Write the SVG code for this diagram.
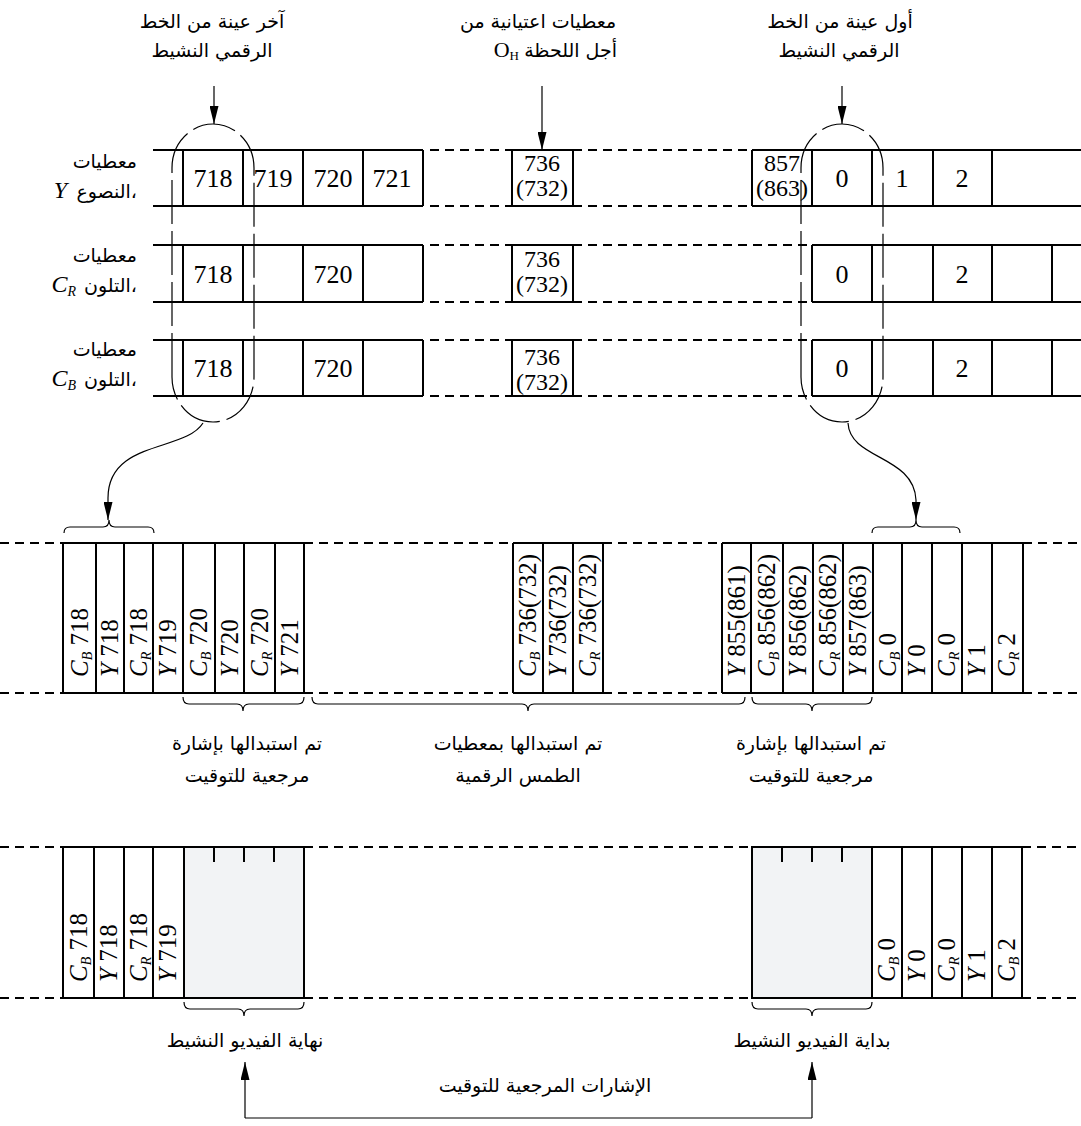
<svg xmlns="http://www.w3.org/2000/svg" width="1081" height="1126" viewBox="0 0 1081 1126">
<defs>
<style>
.ln{stroke:#000;stroke-width:2;fill:none}
.dl{stroke:#000;stroke-width:2;stroke-dasharray:9 6;fill:none}
.ov{stroke:#000;stroke-width:1.2;stroke-dasharray:44 7;fill:none}
.th{stroke:#000;stroke-width:1.2;fill:none}
.gr{fill:#f2f3f5;stroke:#000;stroke-width:2}
.ar{font-family:"DejaVu Sans","Noto Sans",sans-serif;font-size:19px;fill:#000}
.nm{font-family:"Liberation Serif","Times New Roman",serif;font-size:25px;fill:#000}
.cd{font-size:26px}
.bx{font-size:24px}
.it{font-style:italic}
.sb{font-size:14px;font-style:italic}
.mid{text-anchor:middle}
.end{text-anchor:end}
</style>
<marker id="ah" markerUnits="userSpaceOnUse" viewBox="0 0 18 9" refX="18" refY="4.5" markerWidth="18" markerHeight="9" orient="auto">
<path d="M0,0 L18,4.5 L0,9 z" fill="#000"/>
</marker>
</defs>
<rect width="1081" height="1126" fill="#fff"/>

<!-- top labels -->
<g id="label-last-sample">
<text class="ar mid" x="212" y="28">آخر عينة من الخط</text>
<text class="ar mid" x="212" y="57">الرقمي النشيط</text>
</g>
<g id="label-sampled-OH">
<text class="ar mid" x="538" y="28">معطيات اعتيانية من</text>
<text class="ar end" x="617" y="57">أجل اللحظة</text>
<text class="nm end" x="519" y="57" style="font-size:22px">O<tspan style="font-size:13px" dy="3">H</tspan></text>
</g>
<g id="label-first-sample">
<text class="ar mid" x="840" y="28">أول عينة من الخط</text>
<text class="ar mid" x="839" y="57">الرقمي النشيط</text>
</g>

<!-- row labels -->
<g id="label-row-Y">
<text class="ar end" x="137" y="168">معطيات</text>
<text class="ar end" x="137" y="198">النصوع،</text>
<text class="nm it end" x="67" y="198" style="font-size:24px">Y</text>
</g>
<g id="label-row-CR">
<text class="ar end" x="137" y="262">معطيات</text>
<text class="ar end" x="137" y="292">التلون،</text>
<text class="nm it end" x="76" y="292" style="font-size:24px">C<tspan class="sb" dy="4">R</tspan></text>
</g>
<g id="label-row-CB">
<text class="ar end" x="137" y="356">معطيات</text>
<text class="ar end" x="137" y="386">التلون،</text>
<text class="nm it end" x="76" y="386" style="font-size:24px">C<tspan class="sb" dy="4">B</tspan></text>
</g>

<!-- row Y -->
<g id="row-Y">
<path class="ln" d="M153,150H423M153,206H423M183,150V206M243,150V206M303,150V206M363,150V206M423,150V206"/>
<path class="dl" d="M430,150H512M430,206H512M573,150H752M573,206H752"/>
<rect class="ln" x="512" y="150" width="61" height="56"/>
<path class="ln" d="M752,150H1081M752,206H1081M752,150V206M812,150V206M872,150V206M933,150V206M992,150V206"/>
<g class="nm cd">
<text class="mid" x="213" y="187">718</text>
<text class="mid" x="273" y="187">719</text>
<text class="mid" x="333" y="187">720</text>
<text class="mid" x="392" y="187">721</text>
<text class="mid" x="842" y="187">0</text>
<text class="mid" x="902" y="187">1</text>
<text class="mid" x="962" y="187">2</text>
</g>
<g class="nm bx">
<text class="mid" x="542" y="171">736</text>
<text class="mid" x="542" y="196">(732)</text>
<text class="mid" x="782" y="171">857</text>
<text class="mid" x="782" y="196">(863)</text>
</g>
</g>

<!-- row CR -->
<g id="row-CR">
<path class="ln" d="M153,245H423M153,302H423M183,245V302M243,245V302M303,245V302M363,245V302M423,245V302"/>
<path class="dl" d="M430,245H512M430,302H512M573,245H810M573,302H810"/>
<rect class="ln" x="512" y="245" width="61" height="57"/>
<path class="ln" d="M812,245H1081M812,302H1081M812,245V302M872,245V302M933,245V302M992,245V302M1052,245V302"/>
<g class="nm cd">
<text class="mid" x="213" y="283">718</text>
<text class="mid" x="333" y="283">720</text>
<text class="mid" x="842" y="283">0</text>
<text class="mid" x="962" y="283">2</text>
</g>
<g class="nm bx">
<text class="mid" x="542" y="267">736</text>
<text class="mid" x="542" y="292">(732)</text>
</g>
</g>

<!-- row CB -->
<g id="row-CB">
<path class="ln" d="M153,340H423M153,396H423M183,340V396M243,340V396M303,340V396M363,340V396M423,340V396"/>
<path class="dl" d="M430,340H512M430,396H512M573,340H810M573,396H810"/>
<rect class="ln" x="512" y="340" width="61" height="56"/>
<path class="ln" d="M812,340H1081M812,396H1081M812,340V396M872,340V396M933,340V396M992,340V396M1052,340V396"/>
<g class="nm cd">
<text class="mid" x="213" y="377">718</text>
<text class="mid" x="333" y="377">720</text>
<text class="mid" x="842" y="377">0</text>
<text class="mid" x="962" y="377">2</text>
</g>
<g class="nm bx">
<text class="mid" x="542" y="365">736</text>
<text class="mid" x="542" y="390">(732)</text>
</g>
</g>

<!-- dashed ovals -->
<g id="oval-last">
<path class="ov" d="M172,377V168A41,44 0 0 1 254,168V377A41,45 0 0 1 172,377Z"/>
</g>
<g id="oval-first">
<path class="ov" d="M801,377V168A41,44 0 0 1 883,168V377A41,45 0 0 1 801,377Z"/>
</g>

<!-- middle multiplexed stream -->
<g id="stream-mux">
<path class="dl" d="M0,543H63M0,693H63M304,543H513M304,693H513M603,543H722M603,693H722M1023,543H1081M1023,693H1081"/>
<path class="ln" d="M63,543H304M63,693H304M63,543V693M96,543V693M124,543V693M153,543V693M183,543V693M215,543V693M244,543V693M275,543V693M304,543V693"/>
<path class="ln" d="M513,543H603M513,693H603M513,543V693M543,543V693M573,543V693M603,543V693"/>
<path class="ln" d="M722,543H1023M722,693H1023M722,543V693M751,543V693M783,543V693M813,543V693M843,543V693M873,543V693M902,543V693M932,543V693M962,543V693M992,543V693M1023,543V693"/>
<g class="nm">
<text transform="translate(88,677) rotate(-90)"><tspan class="it">C</tspan><tspan class="sb" dy="4">B</tspan><tspan dy="-4"> 718</tspan></text>
<text transform="translate(118,677) rotate(-90)"><tspan class="it">Y</tspan> 718</text>
<text transform="translate(147,677) rotate(-90)"><tspan class="it">C</tspan><tspan class="sb" dy="4">R</tspan><tspan dy="-4"> 718</tspan></text>
<text transform="translate(176,677) rotate(-90)"><tspan class="it">Y</tspan> 719</text>
<text transform="translate(207,677) rotate(-90)"><tspan class="it">C</tspan><tspan class="sb" dy="4">B</tspan><tspan dy="-4"> 720</tspan></text>
<text transform="translate(238,677) rotate(-90)"><tspan class="it">Y</tspan> 720</text>
<text transform="translate(268,677) rotate(-90)"><tspan class="it">C</tspan><tspan class="sb" dy="4">R</tspan><tspan dy="-4"> 720</tspan></text>
<text transform="translate(298,677) rotate(-90)"><tspan class="it">Y</tspan> 721</text>
<text transform="translate(536,677) rotate(-90)"><tspan class="it">C</tspan><tspan class="sb" dy="4">B</tspan><tspan dy="-4"> 736(732)</tspan></text>
<text transform="translate(566,677) rotate(-90)"><tspan class="it">Y</tspan> 736(732)</text>
<text transform="translate(596,677) rotate(-90)"><tspan class="it">C</tspan><tspan class="sb" dy="4">R</tspan><tspan dy="-4"> 736(732)</tspan></text>
<text transform="translate(745,677) rotate(-90)"><tspan class="it">Y</tspan> 855(861)</text>
<text transform="translate(775,677) rotate(-90)"><tspan class="it">C</tspan><tspan class="sb" dy="4">B</tspan><tspan dy="-4"> 856(862)</tspan></text>
<text transform="translate(806,677) rotate(-90)"><tspan class="it">Y</tspan> 856(862)</text>
<text transform="translate(836,677) rotate(-90)"><tspan class="it">C</tspan><tspan class="sb" dy="4">R</tspan><tspan dy="-4"> 856(862)</tspan></text>
<text transform="translate(866,677) rotate(-90)"><tspan class="it">Y</tspan> 857(863)</text>
<text transform="translate(896,677) rotate(-90)"><tspan class="it">C</tspan><tspan class="sb" dy="4">B</tspan><tspan dy="-4"> 0</tspan></text>
<text transform="translate(925,677) rotate(-90)"><tspan class="it">Y</tspan> 0</text>
<text transform="translate(955,677) rotate(-90)"><tspan class="it">C</tspan><tspan class="sb" dy="4">R</tspan><tspan dy="-4"> 0</tspan></text>
<text transform="translate(985,677) rotate(-90)"><tspan class="it">Y</tspan> 1</text>
<text transform="translate(1015,677) rotate(-90)"><tspan class="it">C</tspan><tspan class="sb" dy="4">R</tspan><tspan dy="-4"> 2</tspan></text>
</g>
</g>

<!-- braces -->
<g id="braces">
<path class="th" d="M64,533Q64,527 70,527H103Q109,527 109,520Q109,527 115,527H148Q154,527 154,533"/>
<path class="th" d="M872,533Q872,527 878,527H910Q916,527 916,520Q916,527 922,527H954Q960,527 960,533"/>
<path class="th" d="M183,697Q183,704 189,704H237Q243,704 243,711Q243,704 249,704H298Q304,704 304,697"/>
<path class="th" d="M312,697Q312,704 318,704H522Q528,704 528,711Q528,704 534,704H739Q745,704 745,697"/>
<path class="th" d="M752,697Q752,704 758,704H806Q812,704 812,711Q812,704 818,704H866Q872,704 872,697"/>
<path class="th" d="M184,1002Q184,1009 190,1009H238Q244,1009 244,1016Q244,1009 250,1009H298Q304,1009 304,1002"/>
<path class="th" d="M752,1002Q752,1009 758,1009H806Q812,1009 812,1016Q812,1009 818,1009H866Q872,1009 872,1002"/>
</g>

<!-- middle labels -->
<g id="label-replaced-left">
<text class="ar mid" x="247" y="750">تم استبدالها بإشارة</text>
<text class="ar mid" x="247" y="782">مرجعية للتوقيت</text>
</g>
<g id="label-replaced-blanking">
<text class="ar mid" x="518" y="750">تم استبدالها بمعطيات</text>
<text class="ar mid" x="518" y="782">الطمس الرقمية</text>
</g>
<g id="label-replaced-right">
<text class="ar mid" x="811" y="750">تم استبدالها بإشارة</text>
<text class="ar mid" x="811" y="782">مرجعية للتوقيت</text>
</g>

<!-- bottom stream -->
<g id="stream-out">
<path class="dl" d="M0,847H63M0,998H63M304,847H752M304,998H752M1022,847H1081M1022,998H1081"/>
<rect class="gr" x="184" y="847" width="120" height="151"/>
<rect class="gr" x="752" y="847" width="120" height="151"/>
<path class="ln" d="M63,847H184M63,998H184M63,847V998M94,847V998M124,847V998M153,847V998M214,847V862M244,847V862M274,847V862"/>
<path class="ln" d="M872,847H1022M872,998H1022M902,847V998M932,847V998M962,847V998M992,847V998M1022,847V998M782,847V862M812,847V862M842,847V862"/>
<g class="nm">
<text transform="translate(87,982) rotate(-90)"><tspan class="it">C</tspan><tspan class="sb" dy="4">B</tspan><tspan dy="-4"> 718</tspan></text>
<text transform="translate(117,982) rotate(-90)"><tspan class="it">Y</tspan> 718</text>
<text transform="translate(147,982) rotate(-90)"><tspan class="it">C</tspan><tspan class="sb" dy="4">R</tspan><tspan dy="-4"> 718</tspan></text>
<text transform="translate(176,982) rotate(-90)"><tspan class="it">Y</tspan> 719</text>
<text transform="translate(895,982) rotate(-90)"><tspan class="it">C</tspan><tspan class="sb" dy="4">B</tspan><tspan dy="-4"> 0</tspan></text>
<text transform="translate(925,982) rotate(-90)"><tspan class="it">Y</tspan> 0</text>
<text transform="translate(955,982) rotate(-90)"><tspan class="it">C</tspan><tspan class="sb" dy="4">R</tspan><tspan dy="-4"> 0</tspan></text>
<text transform="translate(985,982) rotate(-90)"><tspan class="it">Y</tspan> 1</text>
<text transform="translate(1015,982) rotate(-90)"><tspan class="it">C</tspan><tspan class="sb" dy="4">B</tspan><tspan dy="-4"> 2</tspan></text>
</g>
</g>

<!-- bottom labels -->
<g id="label-end-active">
<text class="ar mid" x="245" y="1047">نهاية الفيديو النشيط</text>
</g>
<g id="label-start-active">
<text class="ar mid" x="812" y="1047">بداية الفيديو النشيط</text>
</g>
<g id="label-timing-refs">
<text class="ar mid" x="545" y="1092">الإشارات المرجعية للتوقيت</text>
</g>

<!-- connectors -->
<g id="connectors">
<path class="th" marker-end="url(#ah)" d="M214,86V124"/>
<path class="th" marker-end="url(#ah)" d="M542,86V150"/>
<path class="th" marker-end="url(#ah)" d="M842,86V124"/>
<path class="th" marker-end="url(#ah)" d="M203,423C185,452 108,440 108,498V520"/>
<path class="th" marker-end="url(#ah)" d="M848,423C850,460 914,455 916,500V520"/>
<path class="th" d="M245,1118H812"/>
<path class="th" marker-end="url(#ah)" d="M245,1118V1062"/>
<path class="th" marker-end="url(#ah)" d="M812,1118V1062"/>
</g>
</svg>
